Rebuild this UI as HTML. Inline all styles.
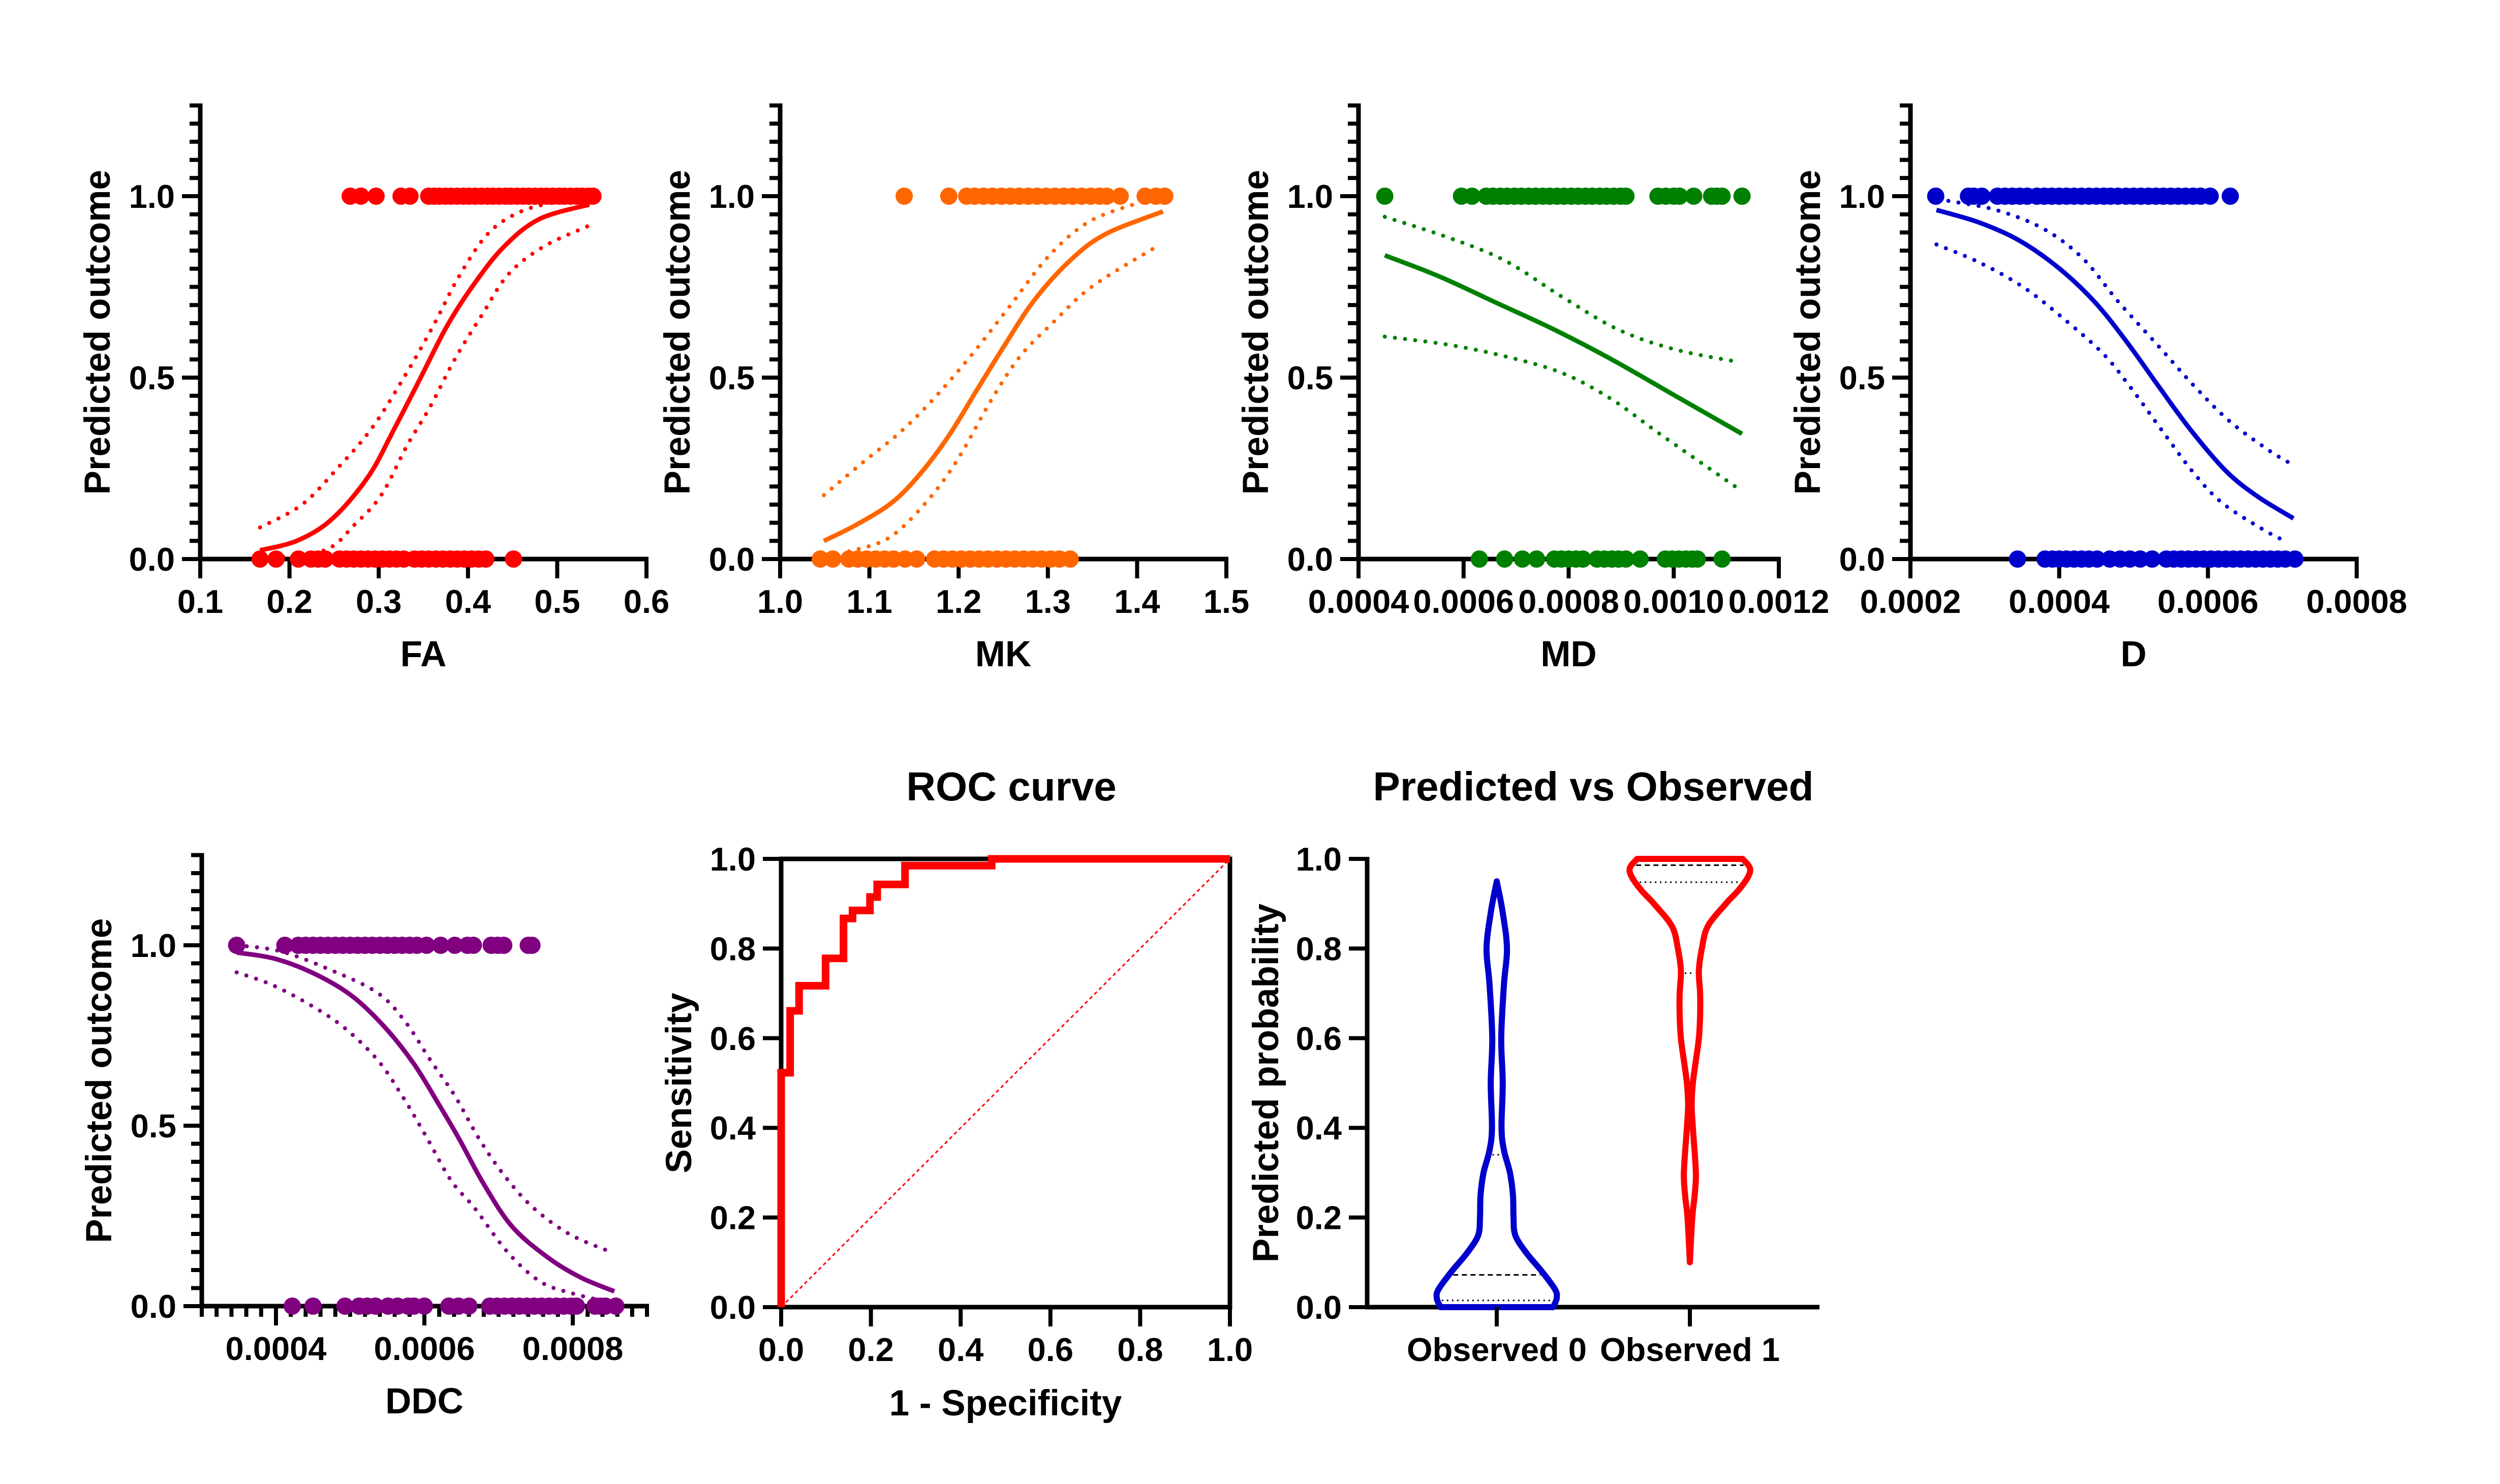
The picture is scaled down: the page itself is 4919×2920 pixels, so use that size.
<!DOCTYPE html>
<html><head><meta charset="utf-8">
<style>
html,body{margin:0;padding:0;background:#fff;}
svg{display:block;font-family:"Liberation Sans",Arial,sans-serif;font-weight:bold;}
</style></head>
<body>
<svg id="chart" xmlns="http://www.w3.org/2000/svg" width="4919" height="2920" viewBox="0 0 4919 2920">
<rect x="0" y="0" width="4919" height="2920" fill="#fff"/>
<text x="1990" y="1575" font-size="80" text-anchor="middle">ROC curve</text>
<text x="3135" y="1575" font-size="80" text-anchor="middle">Predicted vs Observed</text>
</svg>
<script>
// ---------- data ----------
const yTickValues = [0, 0.5, 1.0];
const yTickLabels = ["0.0", "0.5", "1.0"];

const faTicks = [0.1, 0.2, 0.3, 0.4, 0.5, 0.6];
const faTickLabels = ["0.1", "0.2", "0.3", "0.4", "0.5", "0.6"];
const faFitX = [0.167, 0.209, 0.248, 0.288, 0.317, 0.347, 0.376, 0.406, 0.440, 0.480, 0.536];
const faFitY = [0.024, 0.051, 0.111, 0.226, 0.357, 0.5, 0.640, 0.755, 0.860, 0.937, 0.977];
const faUpX = [0.167, 0.214, 0.253, 0.293, 0.332, 0.362, 0.389, 0.421, 0.455, 0.494, 0.536];
const faUpY = [0.087, 0.150, 0.248, 0.363, 0.516, 0.647, 0.775, 0.893, 0.953, 0.982, 0.995];
const faLoX = [0.17, 0.239, 0.273, 0.303, 0.332, 0.357, 0.386, 0.416, 0.445, 0.484, 0.534];
const faLoY = [0.002, 0.024, 0.095, 0.177, 0.314, 0.417, 0.554, 0.674, 0.784, 0.860, 0.917];
const faPos = [0.268,0.280,0.297,0.325,0.335,0.356,0.362,0.368,0.375,0.381,0.388,0.395,0.401,0.408,0.415,0.422,0.428,0.435,0.442,0.448,0.455,0.462,0.468,0.475,0.482,0.488,0.495,0.502,0.508,0.515,0.522,0.528,0.535,0.54];
const faNeg = [0.167,0.185,0.21,0.224,0.232,0.24,0.256,0.264,0.272,0.28,0.288,0.296,0.304,0.312,0.32,0.328,0.34,0.348,0.356,0.364,0.372,0.38,0.388,0.396,0.404,0.412,0.42,0.451];

const mkTicks = [1.0, 1.1, 1.2, 1.3, 1.4, 1.5];
const mkTickLabels = ["1.0", "1.1", "1.2", "1.3", "1.4", "1.5"];
const mkFitX = [1.049, 1.085, 1.125, 1.157, 1.189, 1.221, 1.253, 1.285, 1.325, 1.365, 1.429];
const mkFitY = [0.050, 0.094, 0.155, 0.235, 0.340, 0.468, 0.595, 0.714, 0.823, 0.896, 0.958];
const mkUpX = [1.049, 1.093, 1.137, 1.177, 1.217, 1.257, 1.301, 1.345, 1.397, 1.421];
const mkUpY = [0.176, 0.267, 0.355, 0.455, 0.570, 0.696, 0.835, 0.928, 0.978, 0.99];
const mkLoX = [1.077, 1.121, 1.161, 1.197, 1.237, 1.269, 1.305, 1.349, 1.421];
const mkLoY = [0.021, 0.057, 0.149, 0.267, 0.440, 0.559, 0.650, 0.750, 0.860];
const mkPos = [1.139,1.189,1.209,1.218,1.228,1.238,1.248,1.258,1.268,1.278,1.288,1.298,1.308,1.318,1.328,1.338,1.348,1.358,1.366,1.381,1.409,1.421,1.431];
const mkNeg = [1.045,1.059,1.077,1.087,1.097,1.107,1.117,1.127,1.14,1.153,1.173,1.183,1.193,1.203,1.213,1.223,1.233,1.243,1.253,1.263,1.273,1.283,1.293,1.303,1.313,1.325];

const mdTicks = [0.0004, 0.0006, 0.0008, 0.0010, 0.0012];
const mdTickLabels = ["0.0004", "0.0006", "0.0008", "0.0010", "0.0012"];
const mdFitX = [0.00045, 0.000555, 0.000664, 0.000773, 0.000882, 0.001004, 0.00113];
const mdFitY = [0.837, 0.778, 0.705, 0.632, 0.550, 0.449, 0.345];
const mdUpX = [0.00045, 0.000569, 0.000678, 0.000787, 0.000895, 0.001004, 0.001127];
const mdUpY = [0.943, 0.887, 0.823, 0.723, 0.632, 0.577, 0.542];
const mdLoX = [0.00045, 0.000569, 0.000678, 0.000787, 0.000882, 0.000978, 0.001127];
const mdLoY = [0.613, 0.591, 0.559, 0.513, 0.440, 0.340, 0.190];
const mdPos = [0.00045,0.000596,0.000616,0.000643,0.000656,0.00067,0.000683,0.000697,0.00071,0.000724,0.000737,0.000751,0.000764,0.000778,0.000791,0.000805,0.000818,0.000832,0.000845,0.000859,0.000872,0.000886,0.000899,0.000909,0.00097,0.000985,0.001,0.001011,0.001038,0.001072,0.001082,0.001092,0.00113];
const mdNeg = [0.00063,0.000678,0.000712,0.000739,0.000773,0.000786,0.0008,0.000814,0.000827,0.000854,0.000868,0.000882,0.000895,0.000909,0.000936,0.000984,0.000997,0.00101,0.001023,0.001035,0.001045,0.001092];

const dTicks = [0.0002, 0.0004, 0.0006, 0.0008];
const dTickLabels = ["0.0002", "0.0004", "0.0006", "0.0008"];
const dFitX = [0.000235, 0.000293, 0.000347, 0.0004, 0.000448, 0.000491, 0.000533, 0.000576, 0.000624, 0.000667, 0.000715];
const dFitY = [0.962, 0.927, 0.877, 0.801, 0.708, 0.598, 0.478, 0.358, 0.243, 0.172, 0.112];
const dUpX = [0.000251, 0.000315, 0.000379, 0.000432, 0.00048, 0.000533, 0.000581, 0.000629, 0.000683, 0.000715];
const dUpY = [0.987, 0.962, 0.910, 0.828, 0.708, 0.588, 0.478, 0.380, 0.298, 0.259];
const dLoX = [0.000235, 0.000293, 0.000352, 0.000405, 0.000459, 0.000496, 0.000539, 0.000581, 0.000619, 0.000672, 0.000704];
const dLoY = [0.867, 0.817, 0.749, 0.664, 0.566, 0.473, 0.352, 0.237, 0.155, 0.084, 0.049];
const dPos = [0.000234,0.000278,0.000285,0.000296,0.000317,0.000327,0.000337,0.000347,0.000357,0.00037,0.00038,0.00039,0.0004,0.00041,0.00042,0.00043,0.00044,0.00045,0.00046,0.000469,0.000479,0.00049,0.0005,0.00051,0.00052,0.00053,0.00054,0.00055,0.00056,0.00057,0.00058,0.00059,0.000603,0.00063];
const dNeg = [0.000344,0.000381,0.000391,0.0004,0.00041,0.00042,0.00043,0.00044,0.000451,0.000468,0.000482,0.000495,0.000509,0.000525,0.000544,0.000554,0.000564,0.000574,0.000584,0.000594,0.000604,0.000614,0.000624,0.000634,0.000644,0.000654,0.000664,0.000674,0.000684,0.000694,0.000704,0.000717];

const ddcTicks = [0.0004, 0.0006, 0.0008];
const ddcTickLabels = ["0.0004", "0.0006", "0.0008"];
const ddcFitX = [0.000347, 0.0004, 0.000455, 0.000504, 0.000548, 0.000586, 0.000619, 0.000647, 0.000679, 0.000718, 0.000767, 0.000811, 0.000856];
const ddcFitY = [0.980, 0.962, 0.918, 0.857, 0.770, 0.671, 0.561, 0.463, 0.342, 0.221, 0.134, 0.079, 0.041];
const ddcUpX = [0.000347, 0.000405, 0.000471, 0.000537, 0.000575, 0.000608, 0.000641, 0.000674, 0.000707, 0.000745, 0.000795, 0.000854];
const ddcUpY = [1.0, 0.984, 0.934, 0.868, 0.786, 0.682, 0.583, 0.463, 0.364, 0.276, 0.2, 0.148];
const ddcLoX = [0.000347, 0.000395, 0.00045, 0.000493, 0.000537, 0.00057, 0.000603, 0.000636, 0.000668, 0.000712, 0.000756, 0.0008, 0.000849];
const ddcLoY = [0.925, 0.890, 0.830, 0.770, 0.682, 0.583, 0.468, 0.348, 0.271, 0.150, 0.068, 0.035, 0.011];
const ddcPos = [0.000347,0.000412,0.00043,0.00044,0.00045,0.00046,0.00047,0.00048,0.00049,0.0005,0.00051,0.00052,0.00053,0.00054,0.00055,0.00056,0.00057,0.00058,0.00059,0.000603,0.000622,0.000641,0.000658,0.000666,0.00069,0.000699,0.000707,0.00074,0.000745];
const ddcNeg = [0.000422,0.00045,0.000493,0.000512,0.000523,0.000534,0.000551,0.000564,0.000578,0.000586,0.0006,0.000633,0.000646,0.00066,0.000688,0.000698,0.000708,0.000718,0.000728,0.000738,0.000748,0.000758,0.000768,0.000778,0.000788,0.000798,0.000805,0.00083,0.000837,0.000844,0.000858];

const rocFpr = [0, 0.02, 0.04, 0.099, 0.139, 0.159, 0.198, 0.214, 0.276, 0.469, 1.0];
const rocTpr = [0.523, 0.661, 0.717, 0.778, 0.867, 0.885, 0.915, 0.943, 0.985, 1.0, 1.0];
const rocTicks = [0, 0.2, 0.4, 0.6, 0.8, 1.0];
const rocTickLabels = ["0.0", "0.2", "0.4", "0.6", "0.8", "1.0"];

const violinCategories = ["Observed 0", "Observed 1"];
const violin0Levels = [0, 0.02, 0.04, 0.08, 0.12, 0.16, 0.2, 0.25, 0.3, 0.35, 0.4, 0.5, 0.6, 0.72, 0.8, 0.88, 0.95];
const violin0Density = [0.94, 1.0, 0.97, 0.75, 0.5, 0.31, 0.28, 0.27, 0.22, 0.12, 0.08, 0.1, 0.075, 0.12, 0.17, 0.1, 0.0];
const violin1Levels = [0.1, 0.2, 0.25, 0.3, 0.4, 0.45, 0.5, 0.55, 0.6, 0.65, 0.7, 0.75, 0.8, 0.85, 0.9, 0.93, 0.96, 0.98, 1.0];
const violin1Density = [0.0, 0.04, 0.08, 0.1, 0.05, 0.03, 0.05, 0.1, 0.15, 0.17, 0.17, 0.15, 0.2, 0.3, 0.6, 0.81, 0.97, 1.0, 0.88];
const violin0Quartiles = [0.015, 0.34, 0.072];
const violin1Quartiles = [0.948, 0.745, 0.986];

// ---------- drawing ----------
const NS = "http://www.w3.org/2000/svg";
const svg = document.getElementById("chart");
function mk(tag, attrs, parent) {
  const e = document.createElementNS(NS, tag);
  for (const k in attrs) e.setAttribute(k, attrs[k]);
  (parent || svg).appendChild(e);
  return e;
}
function smoothPath(pts) {
  let d = "M" + pts[0][0].toFixed(1) + "," + pts[0][1].toFixed(1);
  for (let i = 0; i < pts.length - 1; i++) {
    const p0 = pts[Math.max(0, i - 1)], p1 = pts[i], p2 = pts[i + 1], p3 = pts[Math.min(pts.length - 1, i + 2)];
    const c1x = p1[0] + (p2[0] - p0[0]) / 6, c1y = p1[1] + (p2[1] - p0[1]) / 6;
    const c2x = p2[0] - (p3[0] - p1[0]) / 6, c2y = p2[1] - (p3[1] - p1[1]) / 6;
    d += " C" + c1x.toFixed(1) + "," + c1y.toFixed(1) + " " + c2x.toFixed(1) + "," + c2y.toFixed(1) + " " + p2[0].toFixed(1) + "," + p2[1].toFixed(1);
  }
  return d;
}

function logitPanel(c) {
  const g = mk("g", {});
  
  
  const sx = v => c.px0 + (v - c.xmin) / (c.xmax - c.xmin) * (c.px1 - c.px0);
  const sy = v => c.py0 - v * (c.py0 - c.py1);
  for (let k = 0; k <= 25; k++) {
    const v = k * 0.05, major = (k % 10 === 0);
    const t = mk("line", {x1: c.px0 - (major ? 36 : 21), x2: c.px0, y1: sy(v), y2: sy(v), stroke: "#000", "stroke-width": 8}, g);
    
    
  }
  yTickValues.forEach((v, i) => {
    const t = mk("text", {x: c.px0 - 50, y: sy(v) + 23, "font-size": 65, "text-anchor": "end"}, g);
    t.textContent = yTickLabels[i];
    
    
  });
  if (c.minor) {
    for (let v = c.xmin; v <= c.xmax + 1e-12; v += c.minor) {
      const t = mk("line", {x1: sx(v), x2: sx(v), y1: c.py0, y2: c.py0 + 21, stroke: "#000", "stroke-width": 8}, g);
      
      
    }
  }
  c.ticks.forEach((v, i) => {
    const t = mk("line", {x1: sx(v), x2: sx(v), y1: c.py0, y2: c.py0 + 38, stroke: "#000", "stroke-width": 8}, g);
    
    
    const l = mk("text", {x: sx(v), y: c.py0 + 106, "font-size": 65, "text-anchor": "middle"}, g);
    l.textContent = c.tickLabels[i];
    
    
  });
  const ya = mk("line", {x1: c.px0, x2: c.px0, y1: sy(1.25) - 4, y2: c.py0 + 4, stroke: "#000", "stroke-width": 9}, g);
  
  
  const xa = mk("line", {x1: c.px0 - 4, x2: c.px1 + 4, y1: c.py0, y2: c.py0, stroke: "#000", "stroke-width": 9}, g);
  
  
  const xt = mk("text", {x: (c.px0 + c.px1) / 2, y: c.py0 + 211, "font-size": 71, "text-anchor": "middle"}, g);
  xt.textContent = c.xtitle;
  
  
  const tx = c.px0 - 178, ty = (sy(1.25) + c.py0) / 2;
  const yt = mk("text", {x: tx, y: ty, "font-size": 71, "text-anchor": "middle", transform: "rotate(-90 " + tx + " " + ty + ")"}, g);
  yt.textContent = "Predicted outcome";
  
  
  [[c.upX, c.upY, 'upper-ci'], [c.loX, c.loY, 'lower-ci']].forEach(([xs, ys, nm]) => {
    const p = mk("path", {d: smoothPath(xs.map((x, i) => [sx(x), sy(ys[i])])), fill: "none", stroke: c.color, "stroke-width": 8, "stroke-linecap": "round", "stroke-dasharray": "0.1 20"}, g);
    
    
  });
  const f = mk("path", {d: smoothPath(c.fitX.map((x, i) => [sx(x), sy(c.fitY[i])])), fill: "none", stroke: c.color, "stroke-width": 9}, g);
  
  
  c.pos.forEach(v => {
    const d = mk("circle", {cx: sx(v), cy: sy(1), r: 17, fill: c.color}, g);
    
    
  });
  c.neg.forEach(v => {
    const d = mk("circle", {cx: sx(v), cy: sy(0), r: 17, fill: c.color}, g);
    
    
  });
}

const topY0 = 1100, topY1 = 386, botY0 = 2570, botY1 = 1860;
logitPanel({name: "fa", xtitle: "FA", color: "#ff0000", xmin: 0.1, xmax: 0.6, px0: 394, px1: 1272, py0: topY0, py1: topY1, ticks: faTicks, tickLabels: faTickLabels, fitX: faFitX, fitY: faFitY, upX: faUpX, upY: faUpY, loX: faLoX, loY: faLoY, pos: faPos, neg: faNeg});
logitPanel({name: "mk", xtitle: "MK", color: "#ff6600", xmin: 1.0, xmax: 1.5, px0: 1535, px1: 2413, py0: topY0, py1: topY1, ticks: mkTicks, tickLabels: mkTickLabels, fitX: mkFitX, fitY: mkFitY, upX: mkUpX, upY: mkUpY, loX: mkLoX, loY: mkLoY, pos: mkPos, neg: mkNeg});
logitPanel({name: "md", xtitle: "MD", color: "#008000", xmin: 0.0004, xmax: 0.0012, px0: 2673, px1: 3500, py0: topY0, py1: topY1, ticks: mdTicks, tickLabels: mdTickLabels, fitX: mdFitX, fitY: mdFitY, upX: mdUpX, upY: mdUpY, loX: mdLoX, loY: mdLoY, pos: mdPos, neg: mdNeg});
logitPanel({name: "d", xtitle: "D", color: "#0000cc", xmin: 0.0002, xmax: 0.0008, px0: 3759, px1: 4637, py0: topY0, py1: topY1, ticks: dTicks, tickLabels: dTickLabels, fitX: dFitX, fitY: dFitY, upX: dUpX, upY: dUpY, loX: dLoX, loY: dLoY, pos: dPos, neg: dNeg});
logitPanel({name: "ddc", xtitle: "DDC", color: "#800080", xmin: 0.0003, xmax: 0.0009, px0: 397, px1: 1273, py0: botY0, py1: botY1, minor: 0.00002, ticks: ddcTicks, tickLabels: ddcTickLabels, fitX: ddcFitX, fitY: ddcFitY, upX: ddcUpX, upY: ddcUpY, loX: ddcLoX, loY: ddcLoY, pos: ddcPos, neg: ddcNeg});

// ROC
(function () {
  const X0 = 1537, X1 = 2420, Y0 = 2572, Y1 = 1690;
  const sx = v => X0 + v * (X1 - X0), sy = v => Y0 - v * (Y0 - Y1);
  const g = mk("g", {});
  
  
  rocTicks.forEach((v, i) => {
    const a = mk("line", {x1: sx(v), x2: sx(v), y1: Y0, y2: Y0 + 38, stroke: "#000", "stroke-width": 8}, g);
    
    
    const b = mk("line", {x1: X0 - 36, x2: X0, y1: sy(v), y2: sy(v), stroke: "#000", "stroke-width": 8}, g);
    
    
    const l = mk("text", {x: sx(v), y: Y0 + 106, "font-size": 65, "text-anchor": "middle"}, g);
    l.textContent = rocTickLabels[i];
    
    
    const m = mk("text", {x: X0 - 50, y: sy(v) + 23, "font-size": 65, "text-anchor": "end"}, g);
    m.textContent = rocTickLabels[i];
    
    
  });
  const fr = mk("rect", {x: X0, y: Y1, width: X1 - X0, height: Y0 - Y1, fill: "none", stroke: "#000", "stroke-width": 9}, g);
  
  
  const dg = mk("line", {x1: sx(0), y1: sy(0), x2: sx(1), y2: sy(1), stroke: "#ff0000", "stroke-width": 3, "stroke-dasharray": "7 6"}, g);
  
  
  let d = "M" + sx(0) + "," + sy(0);
  for (let i = 0; i < rocFpr.length; i++) {
    d += " V" + sy(rocTpr[i]).toFixed(1);
    if (i + 1 < rocFpr.length) d += " H" + sx(rocFpr[i + 1]).toFixed(1);
  }
  const rc = mk("path", {d: d, fill: "none", stroke: "#ff0000", "stroke-width": 15, "stroke-linejoin": "miter"}, g);
  
  
  const xt = mk("text", {x: (X0 + X1) / 2, y: 2785, "font-size": 71, "text-anchor": "middle"}, g);
  xt.textContent = "1 - Specificity";
  
  
  const tx = 1360, ty = (Y0 + Y1) / 2;
  const yt = mk("text", {x: tx, y: ty, "font-size": 71, "text-anchor": "middle", transform: "rotate(-90 " + tx + " " + ty + ")"}, g);
  yt.textContent = "Sensitivity";
  
  
})();

// Violin
(function () {
  const X0 = 2690, X1 = 3580, Y0 = 2572, Y1 = 1690, HW = 118;
  const cats = [2945, 3325];
  const sy = v => Y0 - v * (Y0 - Y1);
  const g = mk("g", {});
  
  
  rocTicks.forEach((v, i) => {
    const b = mk("line", {x1: X0 - 36, x2: X0, y1: sy(v), y2: sy(v), stroke: "#000", "stroke-width": 8}, g);
    
    
    const m = mk("text", {x: X0 - 50, y: sy(v) + 23, "font-size": 65, "text-anchor": "end"}, g);
    m.textContent = rocTickLabels[i];
    
    
  });
  const ya = mk("line", {x1: X0, x2: X0, y1: Y1 - 4, y2: Y0 + 4, stroke: "#000", "stroke-width": 9}, g);
  
  
  const xa = mk("line", {x1: X0 - 4, x2: X1, y1: Y0, y2: Y0, stroke: "#000", "stroke-width": 9}, g);
  
  
  const sets = [[violin0Levels, violin0Density, violin0Quartiles, "#0000cc"], [violin1Levels, violin1Density, violin1Quartiles, "#ff0000"]];
  sets.forEach(([lv, dn, q, col], ci) => {
    const cx = cats[ci];
    const right = lv.map((v, i) => [cx + dn[i] * HW, sy(v)]);
    const left = lv.map((v, i) => [cx - dn[i] * HW, sy(v)]).reverse();
    const p = smoothPath(right) + " L" + left[0][0].toFixed(1) + "," + left[0][1].toFixed(1) + smoothPath(left).replace(/^M[^C]*/, " ") + " Z";
    const vp = mk("path", {d: p, fill: "none", stroke: col, "stroke-width": 12, "stroke-linejoin": "round"}, g);
    
    
    const hwAt = v => {
      for (let i = 0; i < lv.length - 1; i++) if (v >= lv[i] && v <= lv[i + 1]) return (dn[i] + (dn[i + 1] - dn[i]) * (v - lv[i]) / (lv[i + 1] - lv[i])) * HW;
      return 0;
    };
    q.forEach((v, k) => {
      const w = hwAt(v) - 8;
      const ql = mk("line", {x1: cx - w, x2: cx + w, y1: sy(v), y2: sy(v), stroke: "#000", "stroke-width": 3, "stroke-dasharray": k === 2 ? "10 7" : "3 7"}, g);
      
      
    });
    const t = mk("line", {x1: cx, x2: cx, y1: Y0, y2: Y0 + 38, stroke: "#000", "stroke-width": 8}, g);
    
    
    const l = mk("text", {x: cx, y: Y0 + 106, "font-size": 65, "text-anchor": "middle"}, g);
    l.textContent = violinCategories[ci];
    
    
  });
  const tx = 2515, ty = (Y0 + Y1) / 2;
  const yt = mk("text", {x: tx, y: ty, "font-size": 71, "text-anchor": "middle", transform: "rotate(-90 " + tx + " " + ty + ")"}, g);
  yt.textContent = "Predicted probability";
  
  
})();
</script>
</body></html>
